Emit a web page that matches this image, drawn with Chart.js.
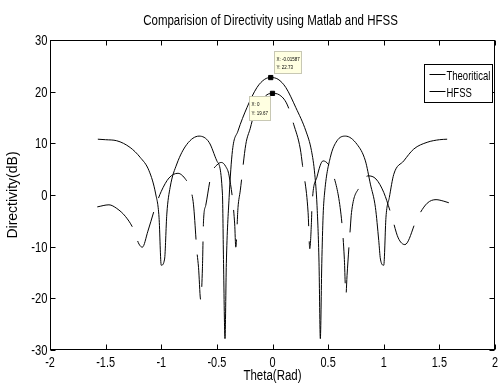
<!DOCTYPE html>
<html>
<head>
<meta charset="utf-8">
<script src="https://cdn.jsdelivr.net/npm/chart.js@4.4.1/dist/chart.umd.min.js"></script>
<style>
  html, body { margin: 0; padding: 0; background: #fff; }
</style>
</head>
<body>
<canvas id="chart" width="500" height="388"></canvas>
<script>
// values
const thetaTheory = [-1.57,-1.50,-1.40,-1.28,-1.19,-1.11,-1.05,-1.02,-1.00,-0.97,-0.95,-0.92,-0.86,-0.77,-0.66,-0.57,-0.50,-0.45,-0.44,-0.427,-0.415,-0.39,-0.36,-0.31,-0.23,-0.14,-0.07,-0.016,0.05,0.12,0.21,0.30,0.35,0.38,0.40,0.418,0.43,0.443,0.455,0.47,0.52,0.58,0.655,0.76,0.835,0.88,0.925,0.955,0.97,1.00,1.02,1.05,1.09,1.18,1.27,1.39,1.50,1.57];
const dirTheory = [10.8,10.7,10.5,9.2,7.3,4.7,0.2,-4.3,-13.6,-12.4,-3.7,1.5,6.0,9.8,11.4,10.2,6.6,0.2,-13.3,-27.8,-13.3,-0.5,8.6,12.4,16.9,20.8,22.4,22.73,22.4,20.8,16.9,12.4,8.6,4.0,-2.0,-13.0,-27.8,-13.3,-4.0,0.8,7.3,10.5,11.4,9.8,6.6,2.1,-2.4,-8.8,-12.4,-13.6,-4.3,-0.5,4.0,6.6,8.9,10.2,10.7,10.8];

const thetaHfss = [-1.575,-1.47,-1.40,-1.32,-1.25,-1.20,-1.17,-1.12,-1.05,-1.00,-0.93,-0.85,-0.78,-0.74,-0.71,-0.68,-0.665,-0.645,-0.63,-0.62,-0.60,-0.55,-0.50,-0.46,-0.42,-0.39,-0.34,-0.33,-0.31,-0.29,-0.24,-0.20,-0.17,-0.10,-0.05,0,0.06,0.13,0.19,0.25,0.27,0.32,0.335,0.35,0.355,0.40,0.455,0.50,0.54,0.62,0.645,0.66,0.67,0.70,0.71,0.78,0.86,0.93,1.00,1.07,1.13,1.19,1.30,1.39,1.47,1.54,1.585];
const dirHfss = [-2.3,-1.9,-2.6,-4.2,-6.6,-9.5,-10.1,-7.0,-2.1,0.7,3.3,4.2,3.0,1.3,-1.9,-10.8,-14.0,-20.4,-14.3,-5.0,-2.0,4.0,5.8,6.3,5.5,3.7,-5.6,-10.1,-2.4,0.8,9.8,12.9,15.3,18.2,19.4,19.67,19.4,17.6,13.7,8.9,5.7,-3.4,-10.4,-5.3,-2.1,3.5,6.6,6.0,4.4,-4.6,-12,-19.4,-15.6,-6.2,-3.4,1.5,3.7,3.1,0.5,-4.0,-8.3,-9.6,-4.5,-1.6,-0.9,-1.2,-1.5];

// data tips
const tipTheta = [-0.01587, 0];
const tipDir = [22.73, 19.67];
const tipLabels = [['X: -0.01587', 'Y: 22.73'], ['X: 0', 'Y: 19.67']];

const seriesNames = ['Theoritical', 'HFSS'];

const FONT = "'Liberation Sans', Arial, sans-serif";

const toPoints = (xs, ys) => xs.map((x, i) => ({ x: x, y: ys[i] }));

// Helvetica in the MATLAB figure is narrow, so squeeze Liberation Sans a bit
function narrowText(ctx, text, x, y, size, align, squeeze) {
  ctx.save();
  ctx.translate(x, y);
  ctx.scale(squeeze, 1);
  ctx.font = size + 'px ' + FONT;
  ctx.textAlign = align;
  ctx.textBaseline = 'alphabetic';
  ctx.fillText(text, 0, 0);
  ctx.restore();
}

// MATLAB-like box with inward ticks, labels, title, legend and data tips
const matlabDecor = {
  id: 'matlabDecor',
  afterDatasetsDraw(chart) {
    const ctx = chart.ctx;
    const a = chart.chartArea;
    const xs = chart.scales.x, ys = chart.scales.y;
    const L = Math.round(a.left) + 0.5, R = Math.round(a.right) - 0.5;
    const T = Math.round(a.top) + 0.5, B = Math.round(a.bottom) - 0.5;
    ctx.save();
    ctx.strokeStyle = '#000';
    ctx.fillStyle = '#000';
    ctx.lineWidth = 1;
    ctx.strokeRect(L, T, R - L, B - T);
    ctx.beginPath();
    xs.ticks.forEach(t => {
      const px = Math.round(xs.getPixelForValue(t.value)) + 0.5;
      ctx.moveTo(px, B); ctx.lineTo(px, B - 5);
      ctx.moveTo(px, T); ctx.lineTo(px, T + 5);
    });
    ys.ticks.forEach(t => {
      const py = Math.round(ys.getPixelForValue(t.value)) + 0.5;
      ctx.moveTo(L, py); ctx.lineTo(L + 5, py);
      ctx.moveTo(R, py); ctx.lineTo(R - 5, py);
    });
    ctx.stroke();

    // tick labels
    xs.ticks.forEach(t => {
      narrowText(ctx, String(t.value), xs.getPixelForValue(t.value), B + 17, 14, 'center', 0.78);
    });
    ys.ticks.forEach(t => {
      narrowText(ctx, String(t.value), L - 3, ys.getPixelForValue(t.value) + 5, 14, 'right', 0.8);
    });

    // axis titles and title
    narrowText(ctx, 'Theta(Rad)', (a.left + a.right) / 2, 380, 14, 'center', 0.82);
    narrowText(ctx, 'Comparision of Directivity using Matlab and HFSS', (a.left + a.right) / 2 - 2, 25, 14, 'center', 0.82);
    ctx.save();
    ctx.translate(17, (a.top + a.bottom) / 2);
    ctx.rotate(-Math.PI / 2);
    ctx.font = '14px ' + FONT;
    ctx.textAlign = 'center';
    ctx.fillText('Directivity(dB)', 0, 0);
    ctx.restore();

    // data tips
    const boxes = [{ dx: 3, dy: -27, w: 27, h: 22 }, { dx: -24, dy: 3, w: 21, h: 24 }];
    tipTheta.forEach((tx, i) => {
      const px = xs.getPixelForValue(tx), py = ys.getPixelForValue(tipDir[i]);
      const b = boxes[i];
      const bx = Math.round(px + b.dx) + 0.5, by = Math.round(py + b.dy) + 0.5;
      ctx.fillStyle = '#ffffe1';
      ctx.strokeStyle = '#c8c8b4';
      ctx.fillRect(bx, by, b.w, b.h);
      ctx.strokeRect(bx, by, b.w, b.h);
      ctx.fillStyle = '#000';
      narrowText(ctx, tipLabels[i][0], bx + 2, by + b.h * 0.32 + 2, 6, 'left', 0.75);
      narrowText(ctx, tipLabels[i][1], bx + 2, by + b.h * 0.7 + 2, 6, 'left', 0.75);
    });

    // legend
    const lx = Math.round(a.right) - 70.5, ly = Math.round(a.top) + 24.5;
    ctx.fillStyle = '#fff';
    ctx.fillRect(lx, ly, 68, 38);
    ctx.strokeStyle = '#000';
    ctx.strokeRect(lx, ly, 68, 38);
    ctx.fillStyle = '#000';
    seriesNames.forEach((name, i) => {
      const yy = ly + 10 + i * 17;
      ctx.beginPath();
      ctx.moveTo(lx + 5, yy); ctx.lineTo(lx + 21, yy);
      ctx.stroke();
      narrowText(ctx, name, lx + 22, yy + 5, 13, 'left', 0.73);
    });
    ctx.restore();
  }
};

new Chart(document.getElementById('chart'), {
  type: 'line',
  data: {
    datasets: [
      {
        label: seriesNames[0],
        data: toPoints(thetaTheory, dirTheory),
        borderColor: '#000',
        borderWidth: 1,
        pointRadius: 0,
        cubicInterpolationMode: 'monotone'
      },
      {
        label: seriesNames[1],
        data: toPoints(thetaHfss, dirHfss),
        borderColor: '#000',
        borderWidth: 1,
        borderDash: [45, 15],
        pointRadius: 0,
        cubicInterpolationMode: 'monotone'
      },
      {
        label: 'tips',
        data: toPoints(tipTheta, tipDir),
        showLine: false,
        pointStyle: 'rect',
        pointRadius: 3,
        backgroundColor: '#000',
        borderColor: '#000'
      }
    ]
  },
  options: {
    responsive: false,
    animation: false,
    devicePixelRatio: 1,
    layout: { padding: { top: 40, right: 5, left: 0, bottom: 0 } },
    plugins: {
      legend: { display: false },
      title: { display: false },
      tooltip: { enabled: false }
    },
    scales: {
      x: {
        type: 'linear',
        min: -2,
        max: 2,
        grid: { display: false },
        border: { display: false },
        ticks: { stepSize: 0.5, display: false },
        afterFit: s => { s.height = 38; }
      },
      y: {
        min: -30,
        max: 30,
        grid: { display: false },
        border: { display: false },
        ticks: { stepSize: 10, display: false },
        afterFit: s => { s.width = 50; }
      }
    }
  },
  plugins: [matlabDecor]
});
</script>
</body>
</html>
